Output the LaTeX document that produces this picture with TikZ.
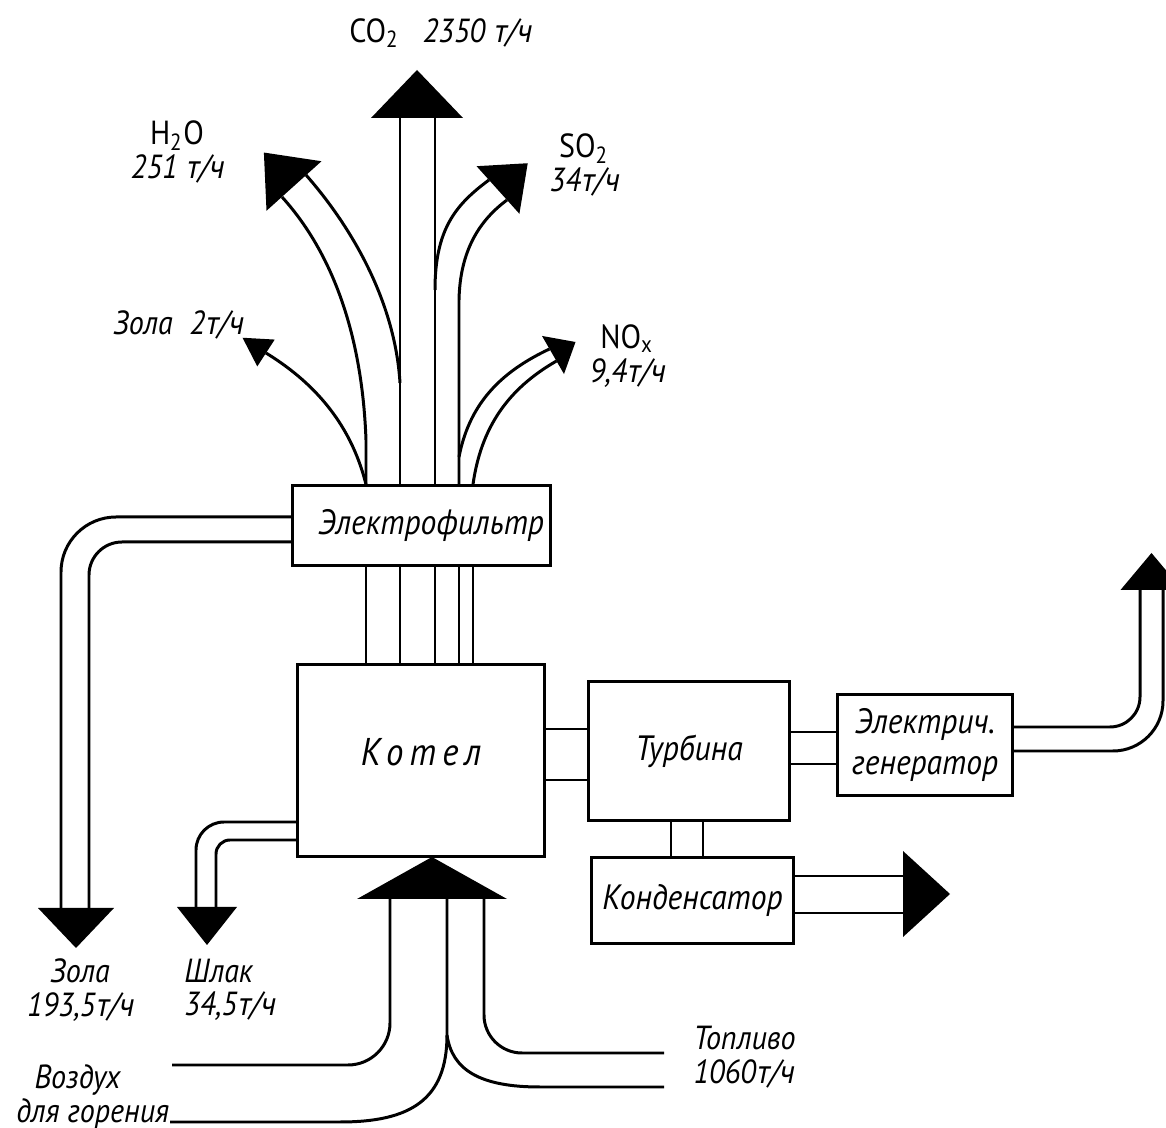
\documentclass[tikz,border=0pt]{standalone}
\usepackage{fontspec}
\setmainfont{PT Sans}[FakeStretch=0.9]
\newfontfamily\obliquefont{PT Sans}[FakeSlant=0.2, FakeStretch=0.9]
\usetikzlibrary{calc}

\newcommand{\tch}{{\obliquefont\upshape т/ч}}
% filled head of a flow: base middle, direction, half width, length
\newcommand{\flowhead}[4]{%
  \fill ($(#1)+(#2+90:#3)$) -- ($(#1)+(#2:#4)$) -- ($(#1)+(#2-90:#3)$) -- cycle;}

\begin{document}
\begin{tikzpicture}[x=0.01cm, y=-0.01cm, line width=0.85pt,
  unit/.style={draw, inner sep=0pt, font=\fontsize{10}{11.5}\selectfont\itshape},
  lbl/.style={inner sep=0pt, align=center, font=\fontsize{9.5}{9.5}\selectfont\itshape}]
\useasboundingbox (0,0) rectangle (1166,1128);

% blocks
\node[unit, minimum width=2.57cm, minimum height=0.79cm, text width=2.45cm, align=flush right] (filter) at (421.5,525.5) {Электрофильтр};
\node[unit, minimum width=2.46cm, minimum height=1.91cm] (boiler) at (421,760.5) {\fontsize{11}{12}\selectfont\addfontfeatures{LetterSpace=16}\raisebox{0.08cm}[\height][\depth]{Котел}};
\node[unit, minimum width=2.0cm, minimum height=1.38cm] (turbine) at (689,751) {Турбина};
\node[unit, minimum width=1.74cm, minimum height=1.0cm, align=center] (generator) at (925,745) {Электрич.\\генератор};
\node[unit, minimum width=2.01cm, minimum height=0.85cm] (condenser) at (692.5,900.5) {Конденсатор};

% pipes between blocks
\foreach \px in {366,400,435,459,473}
  \draw (boiler.north -| \px,0) -- (filter.south -| \px,0);
\foreach \py in {729,780}
  \draw (boiler.east |- 0,\py) -- (turbine.west |- 0,\py);
\foreach \py in {732,764}
  \draw (turbine.east |- 0,\py) -- (generator.west |- 0,\py);
\foreach \px in {671,703}
  \draw (turbine.south -| \px,0) -- (condenser.north -| \px,0);

% flows out of the filter
\coordinate (ash2) at (266,353);
\draw (filter.north -| 366,0) .. controls (350,420) and (310,380) .. (ash2);
\flowhead{ash2}{213}{16}{28}

\coordinate (h2o) at (294,186);
\draw (filter.north -| 366,0) -- (366,440) .. controls (362,330) and (330,250) .. (282,197);
\draw (400,383) .. controls (395,300) and (350,225) .. (306,175);
\flowhead{h2o}{228}{37}{45}

\coordinate (co2) at (417,118);
\draw (filter.north -| 400,0) -- (400,118);
\draw (filter.north -| 435,0) -- (435,118);
\flowhead{co2}{270}{46}{48}

\coordinate (so2) at (498,190);
\draw (435,290) .. controls (435,230) and (455,205) .. (489,180);
\draw (filter.north -| 459,0) -- (459,300) .. controls (460,250) and (480,220) .. (507,200);
\flowhead{so2}{318}{32}{40}

\coordinate (nox) at (553,355);
\draw (459,457) .. controls (470,400) and (505,370) .. (549.5,349);
\draw (filter.north -| 473,0) .. controls (482,420) and (515,385) .. (556.5,361);
\flowhead{nox}{330}{22}{26}

% ash and slag
\coordinate (ash) at (76,908);
\draw[rounded corners=0.55cm] (filter.west |- 0,517) -- (61,517) -- (61,908);
\draw[rounded corners=0.33cm] (filter.west |- 0,542) -- (89,542) -- (89,908);
\flowhead{ash}{90}{38}{40}

\coordinate (slag) at (207,907);
\draw[rounded corners=0.28cm] (boiler.west |- 0,822) -- (196,822) -- (196,907);
\draw[rounded corners=0.14cm] (boiler.west |- 0,840) -- (216,840) -- (216,907);
\flowhead{slag}{90}{30}{38}

% fuel and air
\coordinate (feed) at (432,899);
\flowhead{feed}{270}{75}{42}
\draw[rounded corners=0.42cm] (390,899) -- (390,1065) -- (172,1065);
\draw (447,899) -- (447,1035) .. controls (447,1100) and (410,1122) .. (340,1122) -- (170,1122);
\draw (447,1035) .. controls (452,1070) and (480,1087) .. (540,1087) -- (664,1087);
\draw[rounded corners=0.38cm] (484,899) -- (484,1053) -- (664,1053);

% power and cooling
\coordinate (power) at (1151.5,590);
\draw[rounded corners=0.3cm] (generator.east |- 0,727) -- (1140,727) -- (1140,590);
\draw[rounded corners=0.5cm] (generator.east |- 0,751) -- (1163,751) -- (1163,590);
\flowhead{power}{270}{31}{37}

\coordinate (heat) at (903,894);
\draw (condenser.east |- 0,876) -- (heat |- 0,876);
\draw (condenser.east |- 0,913) -- (heat |- 0,913);
\flowhead{heat}{0}{43}{47}

% labels
\node[lbl] (co2lbl) at (440,33) {{\upshape CO\textsubscript{2}}\hspace{0.7em}2350 \tch};
\node[lbl] (h2olbl) at (177,152) {{\upshape H\textsubscript{2}O}\\251 \tch};
\node[lbl] (ash2lbl) at (178,325) {Зола\hspace{0.5em}2\tch};
\node[lbl] (so2lbl) at (584,165) {{\upshape SO\textsubscript{2}}\\34\tch};
\node[lbl] (noxlbl) at (627,356) {{\upshape NO\textsubscript{x}}\\9,4\tch};
\node[lbl] (ashlbl) at (80,990) {Зола\\193,5\tch};
\node[lbl, align=left, anchor=west] (slaglbl) at (183,990) {Шлак\\34,5\tch};
\node[lbl, align=left, anchor=west] (airlbl) at (15,1097) {\hspace*{0.18cm}Воздух\\для горения};
\node[lbl, align=left, anchor=west] (fuellbl) at (692,1057) {Топливо\\1060\tch};
\end{tikzpicture}
\end{document}
